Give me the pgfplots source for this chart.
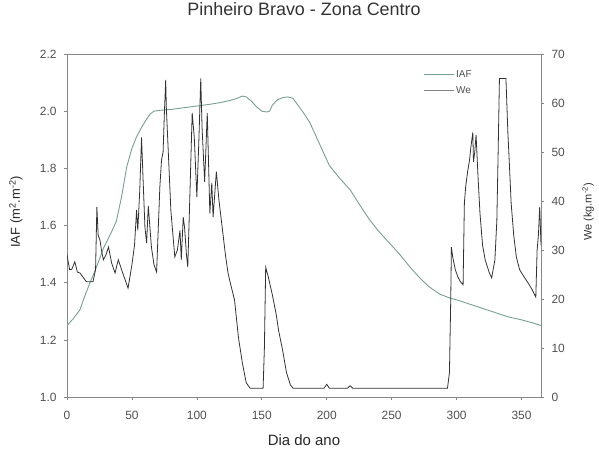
\documentclass[border=0pt]{standalone}
\usepackage{fontspec}
\setmainfont{Liberation Sans}
\usepackage{pgfplots}
\pgfplotsset{compat=1.18}

\definecolor{iafc}{RGB}{118,160,145}
\definecolor{wec}{RGB}{50,50,50}
\definecolor{axc}{RGB}{135,135,135}
\definecolor{txc}{RGB}{80,80,80}

\pgfplotsset{
  common/.style={
    at={(0,0)}, anchor=south west,
    scale only axis, width=474bp, height=343bp,
    xmin=0, xmax=365,
    tick align=outside, major tick length=3bp,
    axis line style={axc, line width=0.6pt},
    every tick/.style={axc, line width=0.6pt},
    tick label style={font=\fontsize{12}{14}\selectfont, text=txc},
    /pgf/number format/assume math mode=true,
  }
}

\begin{document}
\begin{tikzpicture}
\path[use as bounding box] (-67bp,-57bp) rectangle (532bp,397bp);

\begin{axis}[
  common,
  ymin=1.0, ymax=2.2,
  xtick={0,50,100,150,200,250,300,350},
  ytick={1.0,1.2,1.4,1.6,1.8,2.0,2.2},
  xtick pos=bottom, ytick pos=left,
  xticklabel style={yshift=-8bp},
  yticklabel style={/pgf/number format/fixed,
    /pgf/number format/fixed zerofill,
    /pgf/number format/precision=1, xshift=-4bp},
  title={Pinheiro Bravo - Zona Centro},
  title style={at={(axis description cs:0.5,1)}, anchor=center, yshift=39bp,
    font=\fontsize{18}{20}\selectfont, text=black!80},
  xlabel={Dia do ano},
  xlabel style={at={(axis description cs:0.5,0)}, anchor=center, yshift=-43bp,
    font=\fontsize{15}{17}\selectfont, text=black!85},
  ylabel={IAF (m\textsuperscript{2}.m\textsuperscript{-2})},
  ylabel style={at={(axis description cs:-0.1076,0.54)}, anchor=center,
    font=\fontsize{13}{15}\selectfont, text=black!85},
  legend style={at={(axis description cs:0.745,0.965)}, anchor=north west,
    draw=none, fill=none, font=\fontsize{10}{12}\selectfont, text=txc,
    row sep=4bp},
  legend cell align=left,
  legend image code/.code={\draw[#1] (0bp,0bp) -- (30bp,0bp);},
]
\addplot[iafc, line width=0.9pt] coordinates {
(0,1.25)(5,1.275)(10,1.305)(13,1.345)(17.7,1.40)(20.5,1.43)(24,1.47)(28,1.52)
(33,1.565)(38,1.615)(42,1.70)(46,1.805)(50,1.87)(53.5,1.91)(57,1.94)(61,1.97)
(64,1.99)(67,2.0)(71.5,2.003)(80,2.006)(90,2.012)(100,2.018)(110,2.024)(118,2.03)
(126,2.038)(131,2.045)(135,2.053)(138,2.05)(142,2.035)(146,2.015)(150,2.0)
(154,1.997)(156,2.0)(158,2.02)(162,2.04)(166,2.047)(170,2.05)(174,2.045)
(178,2.02)(182,1.995)(187,1.96)(195,1.88)(202,1.81)(210,1.765)(218,1.725)
(225,1.675)(233,1.62)(240,1.58)(248,1.54)(256,1.50)(264,1.455)(272,1.415)
(279,1.385)(287,1.36)(295,1.346)(302,1.337)(310,1.325)(320,1.31)(330,1.295)
(340,1.28)(350,1.27)(358,1.26)(365,1.25)
};
\addlegendentry{IAF}
\addlegendimage{wec!60, line width=0.9pt}
\addlegendentry{We}
\end{axis}

\begin{axis}[
  common,
  ymin=0, ymax=70,
  axis x line=none, axis y line*=right,
  ytick={0,10,20,30,40,50,60,70},
  yticklabel style={xshift=4bp},
  ylabel={We (kg.m\textsuperscript{-2})},
  ylabel style={at={(axis description cs:1.0992,0.54)}, anchor=center,
    font=\fontsize{11}{13}\selectfont, text=black!80},
]
\addplot[wec, line width=0.8pt] coordinates {
(0,29)(2,26)(3.6,26)(6,27.6)(8,25.5)(10,25.3)(15,23.5)(20,23.5)(22,26)(23,38.8)
(24,33)(25.4,32)(26.5,30)(28,28)(30,29)(32,30.6)(34.4,27.3)(37,25.3)(39.5,28)
(42,26)(44,24.5)(47,22.2)(50,27)(52,31)(53.6,38.2)(54.5,34)(56,42)(57.4,53)
(58.5,45)(60,34.7)(61.3,31.4)(62.6,39)(65,30.6)(67,27)(69,25.5)(71.5,42.9)
(72.8,48.4)(74,50)(75,58)(76,64.7)(76.5,59)(78,50)(80,38)(83,28.6)(85,30)
(87,34)(88,28)(89.5,36.7)(90.5,34.7)(92,29)(93,26.5)(94.5,40)(96.4,58)(98,53)
(100,40.8)(101.5,52)(103,65)(104,55)(106,43.9)(108,58)(110,37.5)(111.5,43.7)
(112.5,36.7)(115,46)(117,40.2)(120,33.5)(122,29)(124,25.3)(126,23)(129,19.8)
(132,12.2)(135,7)(138,2.9)(141,1.8)(151,1.8)(152,10)(153,26.5)(155,24.5)
(158,21)(161,17)(163,13.5)(166,9.6)(169,5)(172,2.5)(174,1.8)(198,1.8)(200,2.6)
(202,1.8)(216,1.8)(218,2.3)(220,1.8)(293,1.8)(294.5,5)(295.5,20)(296,30.6)
(297,28.6)(299,26)(301,24.5)(303,23.5)(305,22.9)(306,39.6)(307,42.9)(308.5,46)
(310,48.4)(311,51)(312.5,54)(313,48)(314,50)(315,53.5)(316.5,45)(318,37.5)
(320,31)(322,28)(325,25.5)(327,24.3)(329.5,28)(331,36)(332,50)(333,65)(338,65)
(339.5,53.9)(340.5,48.4)(342,39.6)(344,33)(346,28.6)(348.5,26)(352,24.5)
(355,23.3)(358,22)(361,20.4)(362,30)(363,33)(364,38.8)(365,31)
};
\end{axis}
\end{tikzpicture}
\end{document}
